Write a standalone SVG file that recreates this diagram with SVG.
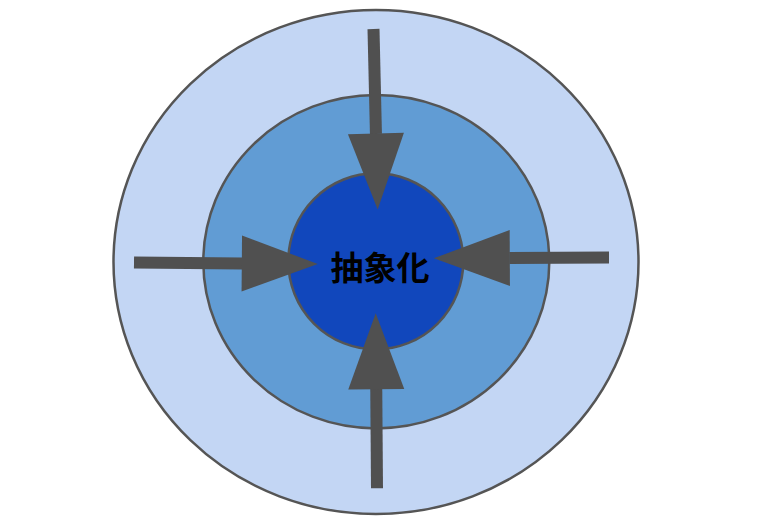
<svg xmlns="http://www.w3.org/2000/svg" width="768" height="524" viewBox="0 0 768 524">
<style>
.ring{stroke:#555555;stroke-width:2.5}
.arr{stroke:#505050;stroke-width:12;fill:none}
.lbl{font-family:"Noto Sans CJK JP","Noto Sans CJK SC",sans-serif;font-weight:bold;font-size:33px;fill:#000000}
</style>
<defs>
<marker id="ah" markerUnits="userSpaceOnUse" viewBox="0 0 76 56" refX="0.5" refY="28" markerWidth="76" markerHeight="56" orient="auto" overflow="visible">
<path d="M0,0 L76,28 L0,56 Z" fill="#505050"/>
</marker>
</defs>
<rect width="768" height="524" fill="#ffffff"/>
<g id="outer"><ellipse class="ring" cx="376" cy="262" rx="262.5" ry="252" fill="#c3d6f4"/></g>
<g id="middle"><ellipse class="ring" cx="376.3" cy="261.7" rx="173" ry="166.7" fill="#619cd4"/></g>
<g id="inner"><ellipse class="ring" cx="375.8" cy="261.3" rx="87.5" ry="88" fill="#1147bc"/>
<text class="lbl" x="380" y="266" text-anchor="middle" dominant-baseline="central">抽象化</text></g>
<g id="connectors">
<line class="arr" x1="373.5" y1="29" x2="375.94" y2="134" marker-end="url(#ah)"/>
<line class="arr" x1="134" y1="262.5" x2="242.3" y2="263.4" marker-end="url(#ah)"/>
<line class="arr" x1="377" y1="488.3" x2="376.26" y2="388.7" marker-end="url(#ah)"/>
<line class="arr" x1="609" y1="257.5" x2="509.3" y2="257.95" marker-end="url(#ah)"/>
</g>
</svg>
